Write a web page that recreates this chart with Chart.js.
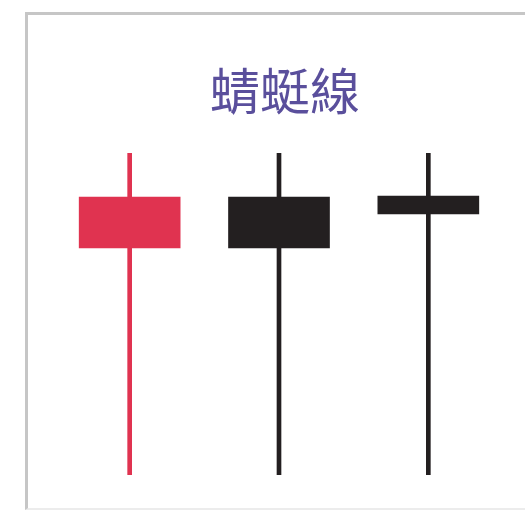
<!DOCTYPE html>
<html>
<head>
<meta charset="utf-8">
<script src="https://cdn.jsdelivr.net/npm/chart.js@4"></script>
<style>
  html, body { margin: 0; padding: 0; background: #fff; }
  body { width: 525px; height: 512px; position: relative; overflow: hidden; }
  .frame {
    position: absolute; left: 25px; top: 12px; width: 520px; height: 493px;
    border-top: 3px solid #c6c6c6; border-left: 3px solid #c6c6c6;
    border-bottom: 2px solid #ececec;
  }
  .wrap { position: absolute; left: 0; top: 0; width: 525px; height: 512px; }
</style>
</head>
<body>
<div class="frame"></div>
<div class="wrap"><canvas id="candleChart"></canvas></div>
<script>
// candle data (price units, 0..100)
var categories = ['紅K', '黑K', '十字'];
var opens  = [70.5, 86.3, 86.6];
var closes = [86.3, 70.5, 81.1];
var highs  = [100, 100, 100];
var lows   = [0, 0, 0];
var candleColors = ['#e03350', '#231f20', '#231f20'];

var bodies = categories.map(function(c, i) { return [opens[i], closes[i]]; });
var wicks  = categories.map(function(c, i) { return [lows[i], highs[i]]; });

new Chart(document.getElementById('candleChart'), {
  type: 'bar',
  data: {
    labels: categories,
    datasets: [
      {
        label: 'body',
        data: bodies,
        backgroundColor: candleColors,
        barThickness: 101,
        grouped: false,
        borderSkipped: false,
        order: 0
      },
      {
        label: 'wick',
        data: wicks,
        backgroundColor: candleColors,
        barThickness: 4,
        grouped: false,
        borderSkipped: false,
        order: 1
      }
    ]
  },
  options: {
    responsive: true,
    maintainAspectRatio: false,
    animation: false,
    layout: { padding: { top: 0, left: 55, right: 10, bottom: 37 } },
    plugins: {
      legend: { display: false },
      tooltip: { enabled: false },
      title: {
        display: true,
        text: '蜻蜓線',
        color: '#5a4f9c',
        font: { size: 50, family: '"Noto Sans CJK TC", "Noto Sans CJK SC", sans-serif', weight: 'normal', lineHeight: 1.2 },
        padding: { top: 61, bottom: 32 }
      }
    },
    scales: {
      x: { display: false, offset: true },
      y: {
        position: 'right',
        min: 0, max: 100,
        grid: { display: false },
        border: { display: false },
        ticks: { display: false },
        afterFit: function(s) { s.width = 12; }
      }
    }
  }
});
</script>
</body>
</html>
